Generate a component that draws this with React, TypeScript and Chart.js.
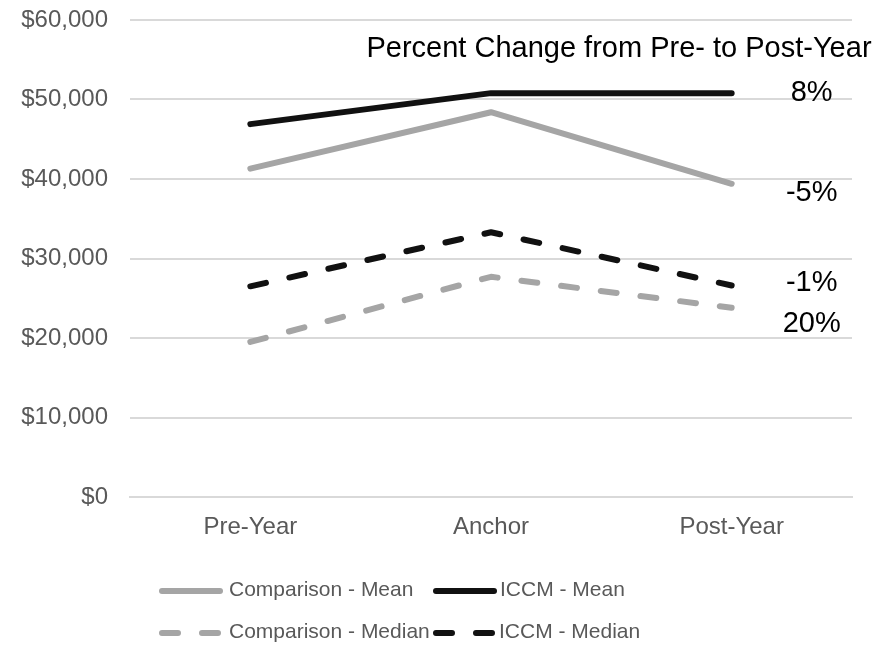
import React, { useEffect, useRef } from "react";
import { Chart, registerables } from "chart.js";

Chart.register(...registerables);

const categories = ["Pre-Year", "Anchor", "Post-Year"];
const compMean = [41300, 48400, 39400];
const iccmMean = [46900, 50800, 50800];
const compMedian = [19500, 27700, 23800];
const iccmMedian = [26500, 33300, 26600];
const pctLabels = ["8%", "-5%", "-1%", "20%"];
const annotationTitle = "Percent Change from Pre- to Post-Year";

const GRAY = "#A5A5A5";
const BLACK = "#111111";
const FONT = "'Liberation Sans', Arial, sans-serif";

const annotPlugin = {
  id: "annot",
  afterDraw(chart: any) {
    const ctx = chart.ctx;
    const x = chart.scales.x;
    const y = chart.scales.y;
    ctx.save();
    ctx.fillStyle = "#000";
    ctx.font = `29px ${FONT}`;
    ctx.textAlign = "center";
    ctx.textBaseline = "middle";
    ctx.fillText(annotationTitle, 619, 49);
    // percent labels: order matches datasets ICCM mean, comp mean, ICCM median, comp median
    const order = [1, 0, 3, 2];
    const offs = [0, 9, -3, 16];
    const px = x.getPixelForValue(2) + 80;
    order.forEach((di, i) => {
      const ds = chart.data.datasets[di];
      const py = y.getPixelForValue(ds.data[2]) + offs[i];
      ctx.fillText(pctLabels[i], px, py);
    });

    // custom legend
    const items = [
      { di: 0, lx: 162, tx: 229, ty: 590 },
      { di: 1, lx: 436, tx: 500, ty: 590 },
      { di: 2, lx: 162, tx: 229, ty: 632 },
      { di: 3, lx: 436, tx: 499, ty: 632 },
    ];
    items.forEach((it) => {
      const ds = chart.data.datasets[it.di];
      ctx.save();
      ctx.strokeStyle = ds.borderColor;
      ctx.lineWidth = ds.borderWidth;
      ctx.lineCap = "round";
      ctx.setLineDash(ds.borderDash || []);
      ctx.beginPath();
      ctx.moveTo(it.lx, it.ty + 1);
      ctx.lineTo(it.lx + 58, it.ty + 1);
      ctx.stroke();
      ctx.restore();
      ctx.fillStyle = "#595959";
      ctx.textAlign = "left";
      ctx.font = `21px ${FONT}`;
      ctx.fillText(ds.label, it.tx, it.ty);
    });
    ctx.restore();
  },
};

export default function App() {
  const ref = useRef<HTMLCanvasElement>(null);
  useEffect(() => {
    const common = {
      borderWidth: 6,
      pointRadius: 0,
      pointHoverRadius: 0,
      borderCapStyle: "round" as const,
      borderJoinStyle: "round" as const,
      tension: 0,
      fill: false,
    };
    const chart = new Chart(ref.current!, {
      type: "line",
      data: {
        labels: categories,
        datasets: [
          { label: "Comparison - Mean", data: compMean, borderColor: GRAY, ...common },
          { label: "ICCM - Mean", data: iccmMean, borderColor: BLACK, ...common },
          { label: "Comparison - Median", data: compMedian, borderColor: GRAY, borderDash: [16, 24], ...common },
          { label: "ICCM - Median", data: iccmMedian, borderColor: BLACK, borderDash: [16, 24], ...common },
        ],
      },
      options: {
        animation: false,
        responsive: false,
        maintainAspectRatio: false,
        layout: { padding: { left: 0, right: 41, top: 20, bottom: 88 } },
        plugins: {
          legend: { display: false },
          tooltip: { enabled: false },
        },
        scales: {
          x: {
            offset: true,
            grid: { display: false, drawTicks: false },
            border: { display: true, color: "#D9D9D9", width: 2 },
            ticks: { color: "#595959", font: { family: FONT, size: 24 }, padding: 16 },
            afterFit: (s: any) => { s.height = 60; },
          },
          y: {
            min: 0,
            max: 60000,
            grid: { color: "#D9D9D9", lineWidth: 2, drawTicks: false },
            border: { display: false },
            ticks: {
              stepSize: 10000,
              color: "#595959",
              font: { family: FONT, size: 24 },
              padding: 22,
              callback: (v: any) => "$" + Number(v).toLocaleString("en-US"),
            },
            afterFit: (s: any) => {
              s.width = 130;
              s.paddingTop = 0;
              s.paddingBottom = 0;
            },
          },
        },
      },
      plugins: [annotPlugin],
    });
    return () => chart.destroy();
  }, []);
  return (
    <div style={{ position: "fixed", left: 0, top: 0, width: 893, height: 645, background: "#fff" }}>
      <canvas ref={ref} width={893} height={645} style={{ width: 893, height: 645 }} />
    </div>
  );
}
